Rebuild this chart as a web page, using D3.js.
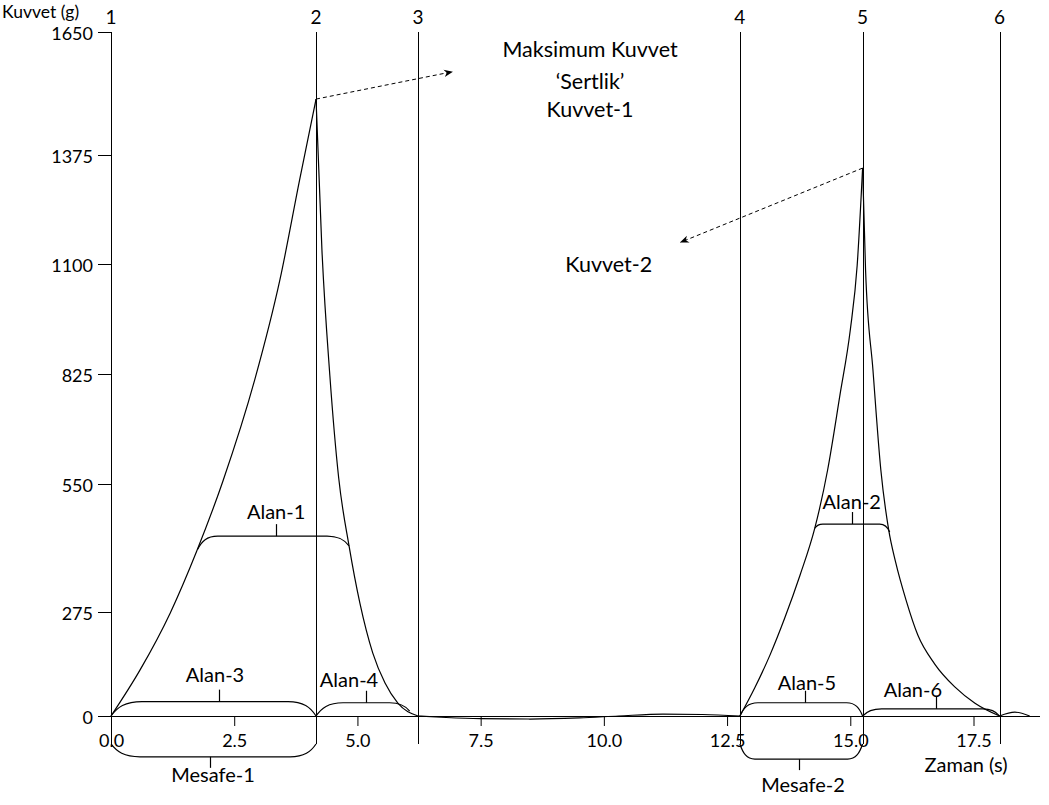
<!DOCTYPE html>
<html><head><meta charset="utf-8">
<script src="https://cdn.jsdelivr.net/npm/d3@7"></script>
<style>
body{margin:0;background:#fff;}
text{font-family:Lato, "Open Sans", sans-serif; font-size:20px; fill:#000;}
</style>
</head><body><svg id="c" width="1049" height="805"></svg>
<script>
// ---- data ----
const xTicks = [0, 2.5, 5, 7.5, 10, 12.5, 15, 17.5];
const yTicks = [0, 275, 550, 825, 1100, 1375, 1650];
const markerLabels = ["1", "2", "3", "4", "5", "6"];
const markerTimes = [0, 4.16, 6.23, 12.76, 15.25, 18.03];

const rise1 = [[0,0],[0.59,122],[1.2,272],[1.74,406],[2.27,557],[2.92,812],[3.43,1062],[3.83,1314],[4.16,1500]];
const fall1 = [[4.16,1500],[4.28,1135],[4.44,822],[4.62,565],[4.83,417],[5.05,294],[5.31,167],[5.56,87],[5.82,34],[6.23,0]];
const baseline = [[6.23,0],[6.8,-4],[7.5,-7],[8.5,-8],[9.5,-5],[10.3,0],[11.2,5],[12.0,4],[12.76,0]];
const rise2 = [[12.76,0],[13.06,74],[13.37,161],[13.67,259],[13.98,354],[14.28,455],[14.54,585],[14.79,772],[15.0,935],[15.14,1097],[15.25,1342]];
const fall2 = [[15.25,1342],[15.31,1085],[15.46,835],[15.62,585],[15.78,451],[15.92,382],[16.13,301],[16.37,214],[16.71,138],[17.12,77],[17.53,34],[18.03,0]];
const tail = [[18.03,0],[18.34,10],[18.64,0]];

const braceLabels = ["Alan-1","Alan-2","Alan-3","Alan-4","Alan-5","Alan-6","Mesafe-1","Mesafe-2"];
const braceStart  = [1.76, 14.28, 0, 4.16, 12.76, 15.25, 0, 12.76];
const braceEnd    = [4.83, 15.80, 4.16, 6.06, 15.25, 18.03, 4.16, 15.25];
const braceStartY = [410, 455, 0, 0, 0, 0, -74, -74];
const braceEndY   = [417, 447, 0, 13, 0, 0, -74, -74];
const braceLevel  = [438, 464, 38, 35, 35, 19, -108, -114];
const braceTickT  = [3.35, 15.03, 2.19, 5.17, 14.08, 16.73, 2.0, 13.96];
const braceLabelT = [3.35, 15.03, 2.11, 4.83, 14.12, 16.27, 2.07, 14.04];
const braceLabelY = [490, 511, 108, 95, 87, 69, -156, -182];

const noteTexts = ["Maksimum Kuvvet", "\u2018Sertlik\u2019", "Kuvvet-1", "Kuvvet-2"];
const noteT = [9.72, 9.72, 9.72, 10.1];
const noteY = [1610, 1540, 1476, 1100];
const arrowFrom = [[4.16, 1500], [15.25, 1342]];
const arrowTo = [[6.92, 1561], [11.56, 1155]];

// ---- styles ----
const cornerL = [20, 8, 31, 27, 18, 19, 29, 15];
const cornerR = [22, 10, 28, 20, 16, 17, 26, 15];

const svg = d3.select("#c");
const x = d3.scaleLinear().domain([0, 17.5]).range([111, 973.5]);
const y = d3.scaleLinear().domain(yTicks).range([716, 612, 484, 374, 264, 155, 32]);
const y0 = y(0);

svg.append("defs").append("marker").attr("id","arr").attr("viewBox","0 0 10 10")
  .attr("refX",9).attr("refY",5).attr("markerWidth",9).attr("markerHeight",9)
  .attr("markerUnits","userSpaceOnUse").attr("orient","auto")
  .append("path").attr("d","M0,1 L10,5 L0,9 L3,5 Z").attr("fill","#000");

// vertical marker lines
const vg = svg.append("g");
markerTimes.forEach((t,i) => {
  vg.append("line").attr("x1", Math.round(x(t))+0.5).attr("x2", Math.round(x(t))+0.5)
    .attr("y1", y(1650)).attr("y2", y0 + 28).attr("stroke","#000").attr("stroke-width",1);
  vg.append("text").attr("x", x(t)).attr("y", 17.5).attr("dy","0.35em").style("font-size","19px")
    .attr("text-anchor","middle").text(markerLabels[i]);
});

// x axis
svg.append("line").attr("x1", 98).attr("x2", 1040).attr("y1", y0+0.5).attr("y2", y0+0.5)
  .attr("stroke","#000");
const xa = svg.append("g").attr("transform",`translate(0,${y0})`)
  .call(d3.axisBottom(x).tickValues(xTicks).tickFormat(d3.format(".1f")).tickSize(10).tickSizeOuter(0));
xa.select(".domain").remove();
xa.selectAll("text").attr("y", 25).attr("dy","0.35em").style("font-size","18px").style("font-family","Lato");
xa.selectAll(".tick line").attr("stroke","#000");

// y axis
const ya = svg.append("g").attr("transform","translate(111,0)")
  .call(d3.axisLeft(y).tickValues(yTicks).tickFormat(d3.format("d")).tickSize(13).tickPadding(5));
ya.select(".domain").remove();
ya.selectAll("text").attr("dy","0.4em").style("font-size","18px").style("font-family","Lato");

svg.append("text").attr("x", 2).attr("y", 17.8).style("font-size","17.5px").text("Kuvvet (g)");
svg.append("text").attr("x", x(17.35)).attr("y", 765).attr("dy","0.35em")
  .attr("text-anchor","middle").text("Zaman (s)");

// curve
const line = d3.line().x(d => x(d[0])).y(d => y(d[1])).curve(d3.curveMonotoneX);
[rise1, fall1, baseline, rise2, fall2, tail].forEach(seg => {
  svg.append("path").attr("d", line(seg)).attr("fill","none").attr("stroke","#000").attr("stroke-width",1.2);
});

// braces
braceLabels.forEach((lab, i) => {
  const xa0 = x(braceStart[i]), xa1 = x(braceEnd[i]);
  const ys = y(braceStartY[i]), ye = y(braceEndY[i]), yl = y(braceLevel[i]);
  const rl = cornerL[i], rr = cornerR[i];
  const p = d3.path();
  p.moveTo(xa0, ys);
  p.bezierCurveTo(xa0 + rl*0.2, ys + (yl-ys)*0.6, xa0 + rl*0.45, yl, xa0 + rl, yl);
  p.lineTo(xa1 - rr, yl);
  p.bezierCurveTo(xa1 - rr*0.45, yl, xa1 - rr*0.2, ye + (yl-ye)*0.6, xa1, ye);
  svg.append("path").attr("d", p.toString()).attr("fill","none").attr("stroke","#000").attr("stroke-width",1.2);
  const below = braceLevel[i] < 0;
  const tx = Math.round(x(braceTickT[i])) + 0.5;
  svg.append("line").attr("x1", tx).attr("x2", tx).attr("y1", yl)
    .attr("y2", below ? yl + 11 : yl - 12).attr("stroke","#000").attr("stroke-width",1.2);
  svg.append("text").attr("x", x(braceLabelT[i])).attr("y", y(braceLabelY[i])).attr("dy","0.35em")
    .attr("text-anchor","middle").text(lab);
});

// notes
noteTexts.forEach((t,i) => {
  svg.append("text").attr("x", x(noteT[i])).attr("y", y(noteY[i])).attr("dy","0.35em")
    .attr("text-anchor","middle").style("font-size","21.5px").text(t);
});
arrowFrom.forEach((a,i) => {
  svg.append("line").attr("x1", x(a[0])).attr("y1", y(a[1]))
    .attr("x2", x(arrowTo[i][0])).attr("y2", y(arrowTo[i][1]))
    .attr("stroke","#000").attr("stroke-width",1).attr("stroke-dasharray","4,3")
    .attr("marker-end","url(#arr)");
});
</script>
</body></html>
